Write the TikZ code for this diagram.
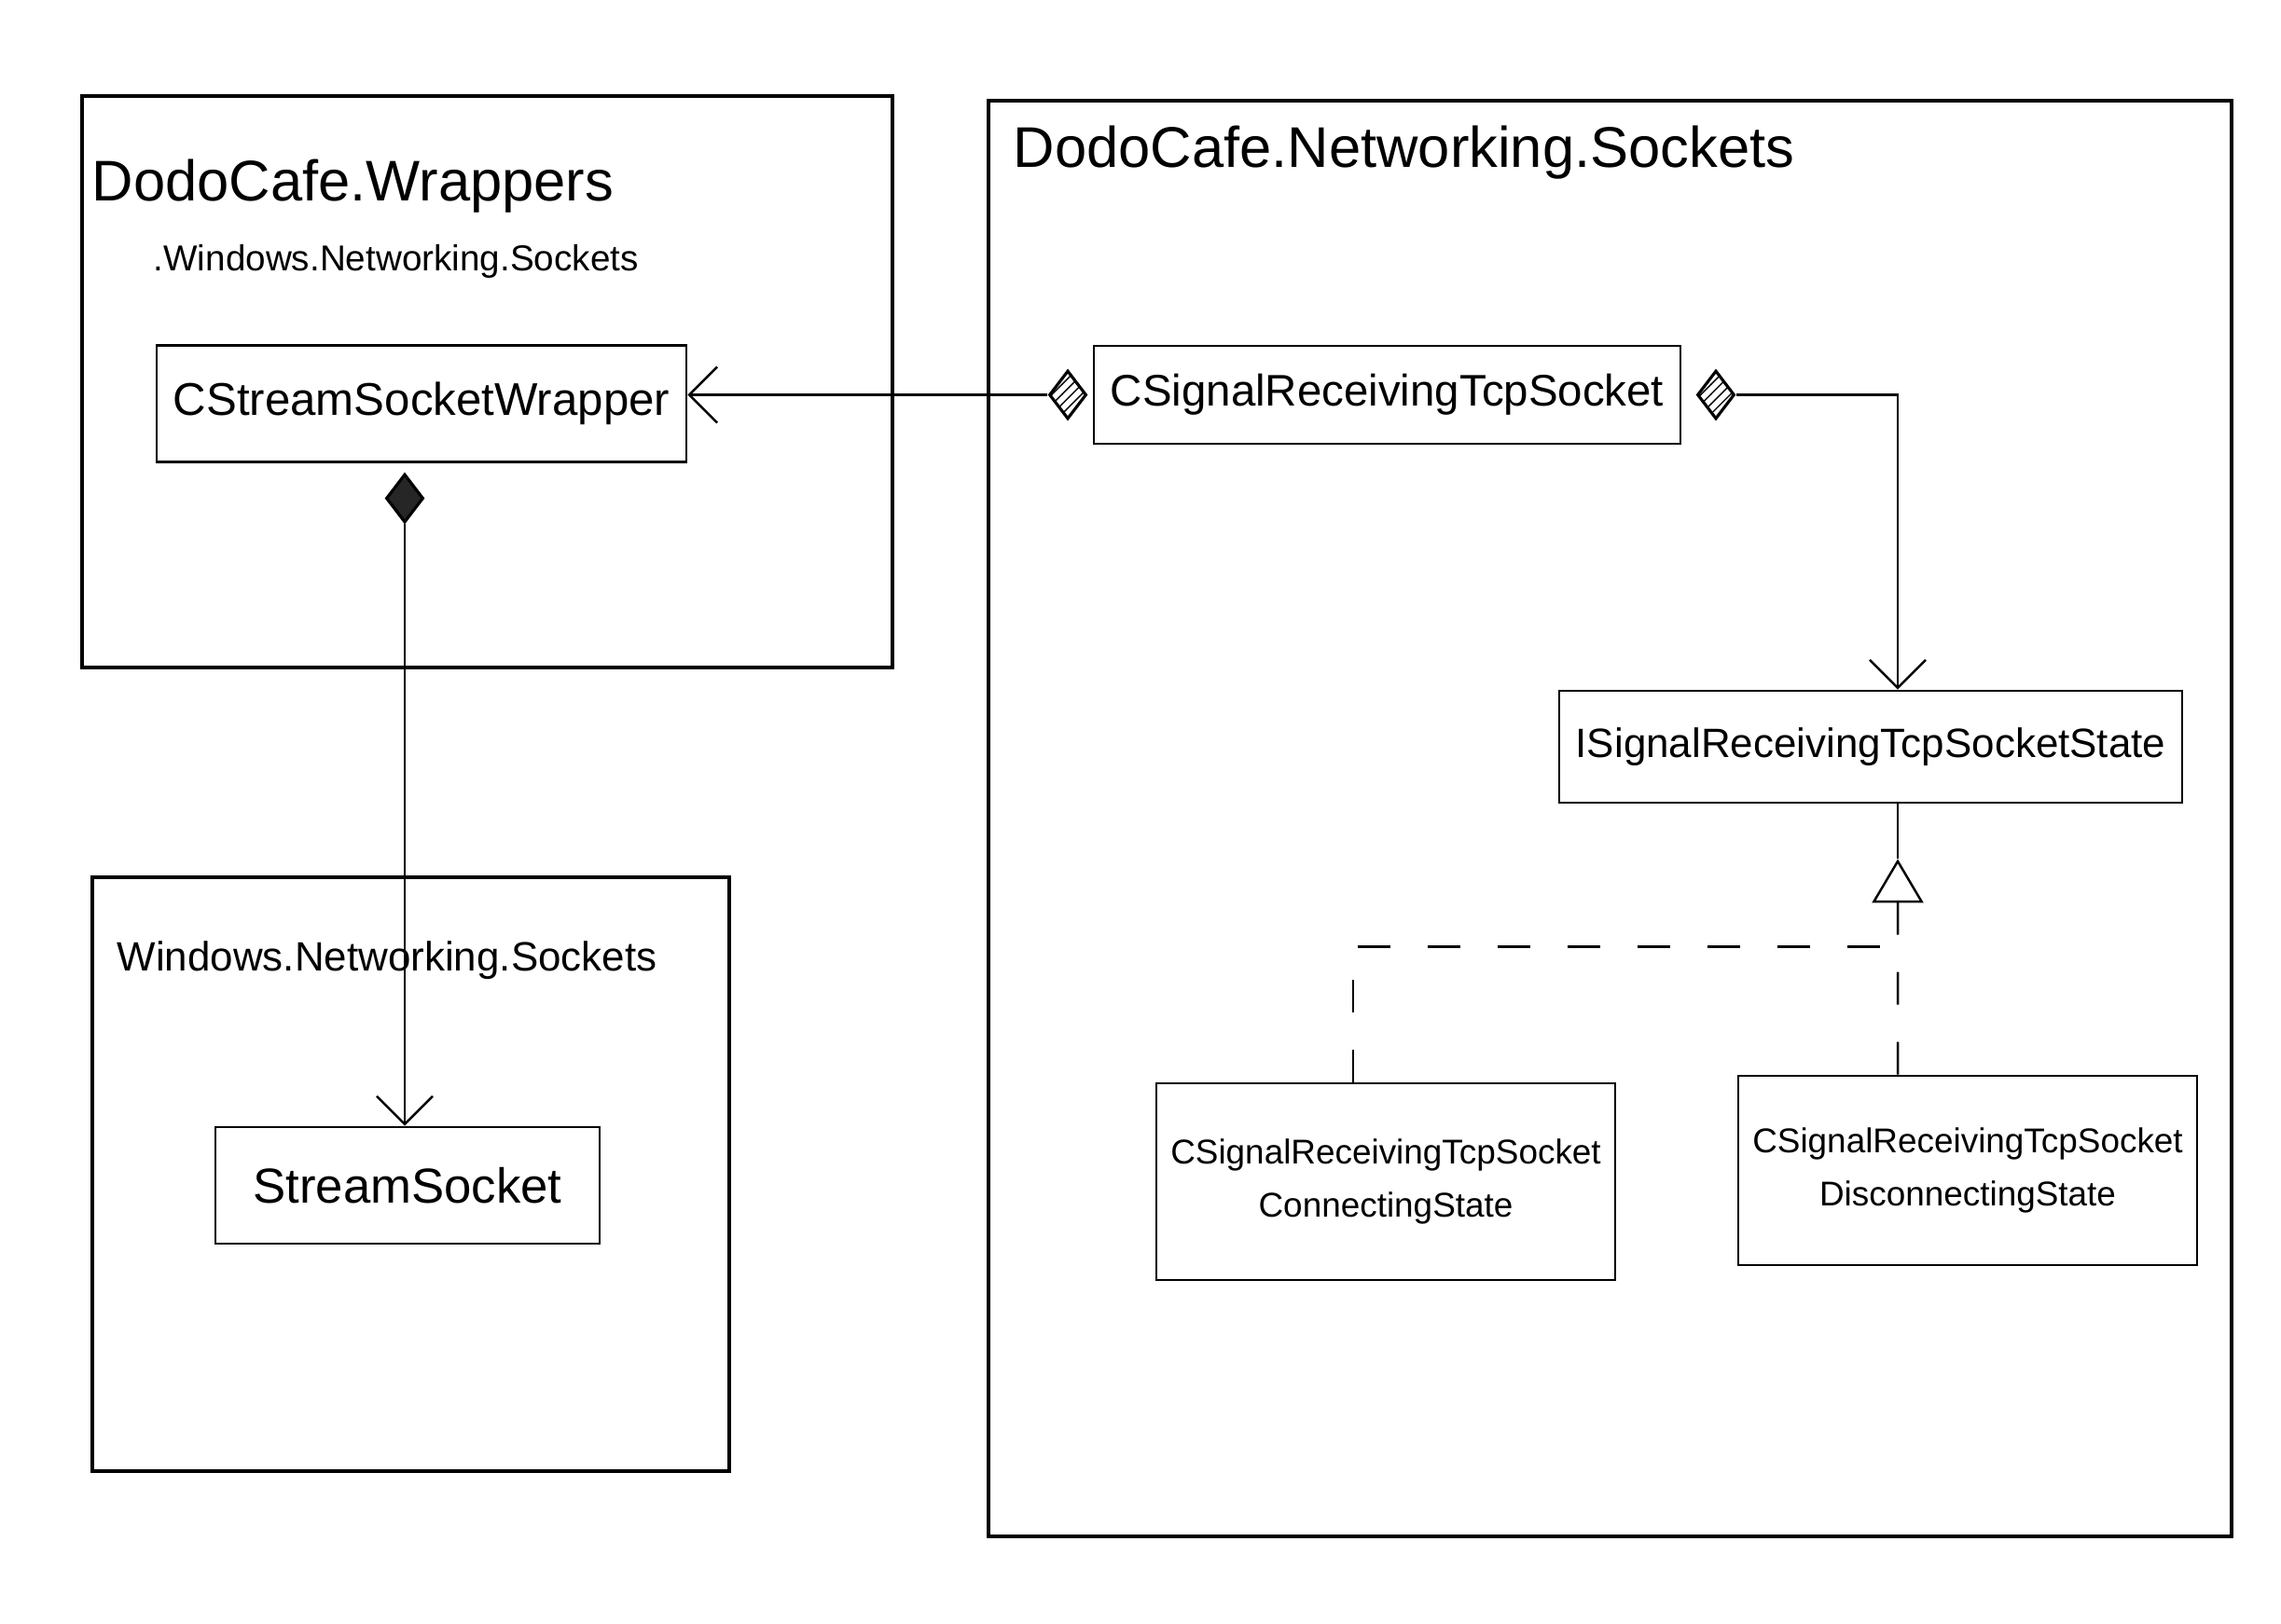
\documentclass[tikz,border=0pt]{standalone}
\usepackage{fontspec}
\setmainfont{Liberation Sans}
\usetikzlibrary{positioning, arrows.meta, shapes.geometric, patterns}

\newcommand{\fsz}[1]{\fontsize{#1}{#1}\selectfont}

\begin{document}
\begin{tikzpicture}[
  pkg/.style={draw, line width=1.2pt, inner sep=0pt, anchor=north west},
  pkgtitle/.style={anchor=west, inner sep=0pt},
  cls/.style={draw, line width=0.8pt, align=center, inner sep=0pt},
  diam/.style={diamond, draw, line width=0.9pt, pattern=north east lines,
               minimum width=4mm, minimum height=5.2mm, inner sep=0pt},
  link/.style={line width=0.7pt},
  ->, >={Straight Barb[length=3mm, width=6mm]}
]
  \useasboundingbox (0,0) rectangle (24.46,-17.41);

  % --- packages ---
  \node[pkg, minimum width=8.69cm, minimum height=6.13cm] (wrapPkg) at (0.86,-1.01) {};
  \node[pkg, minimum width=13.33cm, minimum height=15.40cm] (netPkg) at (10.58,-1.06) {};
  \node[pkg, minimum width=6.83cm, minimum height=6.37cm] (winPkg) at (0.97,-9.39) {};

  \node[pkgtitle, font=\fsz{17.5}] (wrapTitle) at (0.98,-2.0) {DodoCafe.Wrappers};
  \node[pkgtitle, font=\fsz{11}] (wrapTitleB) at (1.64,-2.81) {.Windows.Networking.Sockets};
  \node[pkgtitle, font=\fsz{17.5}] (netTitle) at (10.86,-1.64) {DodoCafe.Networking.Sockets};
  \node[pkgtitle, font=\fsz{12.5}] (winTitle) at (1.25,-10.3) {Windows.Networking.Sockets};

  % --- classes ---
  \node[cls, minimum width=5.68cm, minimum height=1.25cm, font=\fsz{14}] (wrapper) at (4.52,-4.33) {CStreamSocketWrapper};
  \node[cls, minimum width=6.29cm, minimum height=1.05cm, font=\fsz{13.5}] (sock) at (14.875,-4.235) {CSignalReceivingTcpSocket};
  \node[cls, minimum width=6.68cm, minimum height=1.20cm, font=\fsz{12.5}] (iface) at (20.06,-8.01) {ISignalReceivingTcpSocketState};
  \node[cls, minimum width=4.92cm, minimum height=2.11cm, font=\fsz{10.5}] (connState) at (14.86,-12.675) {CSignalReceivingTcpSocket\\[2mm]ConnectingState};
  \node[cls, minimum width=4.92cm, minimum height=2.03cm, font=\fsz{10.5}] (discState) at (21.10,-12.555) {CSignalReceivingTcpSocket\\[2mm]DisconnectingState};
  \node[cls, minimum width=4.12cm, minimum height=1.25cm, font=\fsz{15}] (stream) at (4.37,-12.715) {StreamSocket};

  % --- composition diamonds ---
  \node[diam] (sockL) [left=0.05cm of sock] {};
  \node[diam] (sockR) [right=0.15cm of sock] {};
  \node[diam, pattern=none, fill=black!85] (wrapD) [below=0.1cm of wrapper, xshift=-1.8mm] {};

  % --- associations ---
  \draw[link] (sockL.west) -- (sockL.west -| wrapper.east);
  \draw[link] (sockR.east) -| ([xshift=2.9mm]iface.north);
  \draw[link] (wrapD.south) -- (wrapD.south |- stream.north);

  % --- realization ---
  \coordinate (genTip) at ([xshift=2.9mm, yshift=-5.9mm]iface.south);
  \coordinate (genJoin) at ([yshift=-9.4mm]genTip);
  \draw[link, -] (iface.south -| genTip) -- (genTip);
  \draw[link, dash pattern=on 3.5mm off 4mm, -{Triangle[open, length=4.7mm, width=5.5mm]}]
    ([xshift=-7.5mm]discState.north) -- (genTip);
  \draw[link, -, dash pattern=on 3.5mm off 4mm] ([xshift=-3.5mm]connState.north) |- (genJoin);
\end{tikzpicture}
\end{document}
